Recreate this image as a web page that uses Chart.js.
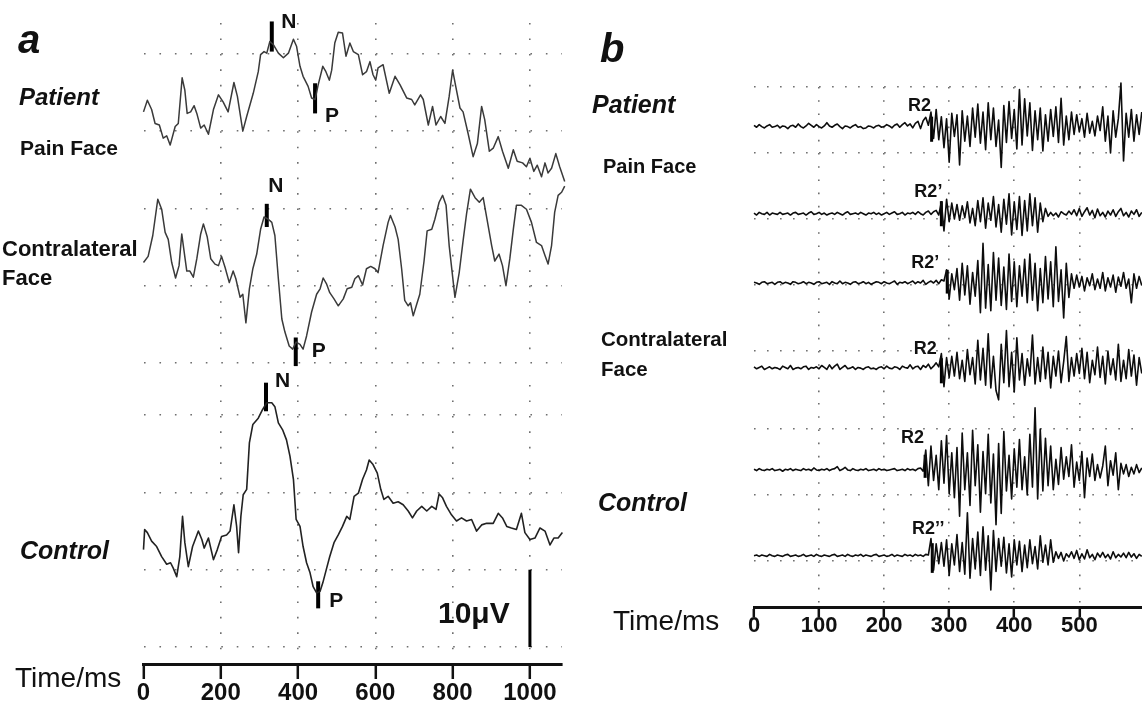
<!DOCTYPE html>
<html>
<head>
<meta charset="utf-8">
<title>Evoked potentials and blink reflex</title>
<script src="https://cdn.jsdelivr.net/npm/chart.js@4.4.0/dist/chart.umd.min.js"></script>
<style>
  html, body { margin: 0; padding: 0; background: #fff; }
  #page { position: relative; width: 1142px; height: 708px; overflow: hidden;
          font-family: Arial, "Liberation Sans", sans-serif; color: #111; }
  #page canvas { position: absolute; left: 0; top: 0; }
  .lbl { position: absolute; white-space: nowrap; line-height: 1; }
</style>
</head>
<body>
<div id="page">
  <canvas id="aUpper" width="1142" height="708"></canvas>
  <canvas id="aLower" width="1142" height="708"></canvas>
  <canvas id="bUpper" width="1142" height="708"></canvas>
  <canvas id="bLower" width="1142" height="708"></canvas>
</div>
<script>
// --- PANEL a: evoked potentials, [time ms, amplitude µV] ---
const aTicks = [0, 200, 400, 600, 800, 1000];
const aRowsUpper = [0, 10, 20, 30, 40];
const aRowsLower = [0, 10, 20, 30];

const aPainFace = [
  [0,2.5],[10,4.0],[21,2.8],[30,1.0],[41,0.8],[51,-0.9],[60,-0.6],[69,-1.8],[82,0.6],[90,1.0],
  [100,6.9],[107,5.3],[113,2.3],[122,2.5],[131,3.3],[138,2.3],[148,0.4],[157,0.8],[168,-0.4],[181,2.8],
  [194,4.7],[206,3.8],[219,2.5],[234,6.3],[243,4.5],[257,0],[267,1.9],[284,4.9],[297,7.7],[303,9.9],
  [312,10.3],[319,10.1],[327,11.6],[336,11.2],[349,10.1],[362,9.5],[375,10.1],[388,11.9],[396,11.0],[405,8.4],
  [413,7.1],[426,5.8],[435,4.3],[444,4.1],[452,6.0],[464,8.4],[472,7.7],[481,6.6],[487,7.9],[495,11.4],
  [504,12.8],[515,12.7],[524,9.7],[534,11.4],[543,10.3],[556,9.9],[567,7.3],[577,7.7],[586,9.0],[594,7.3],
  [601,6.6],[607,8.2],[620,8.6],[636,4.9],[651,7.1],[664,6.0],[681,4.3],[694,4.1],[702,3.4],[717,4.7],
  [724,4.1],[737,0.8],[748,3.2],[757,0.8],[769,1.9],[780,1.0],[791,4.5],[800,7.9],[808,5.8],[819,3.0],
  [827,2.5],[840,-0.3],[853,-3.3],[864,-1.6],[875,3.2],[883,1.5],[895,-2.6],[905,-2.2],[918,-0.7],[929,-2.6],
  [944,-4.8],[957,-2.4],[967,-3.9],[981,-4.1],[991,-4.6],[1000,-3.5],[1010,-5.2],[1019,-4.4],[1030,-5.9],[1039,-4.1],
  [1047,-5.4],[1056,-4.8],[1067,-2.9],[1077,-4.6],[1090,-6.5]
];

const aContralateral = [
  [0,3.0],[12,3.8],[24,6.5],[37,11.2],[47,9.9],[56,6.9],[64,6.0],[73,3.0],[83,1.0],[92,2.6],
  [99,6.7],[106,4.1],[112,1.9],[120,1.9],[129,1.1],[138,3.5],[148,6.7],[155,8.0],[165,6.3],[174,3.5],
  [185,2.8],[194,2.6],[202,3.8],[211,2.4],[222,0.4],[232,1.9],[239,0.9],[250,-1.5],[257,-1.1],[265,-4.8],
  [274,-0.4],[283,2.2],[293,4.1],[303,7.3],[312,8.9],[323,8.6],[332,8.2],[340,6.5],[349,0.9],[358,-4.3],
  [366,-6.0],[377,-7.8],[386,-8.2],[395,-7.3],[405,-7.6],[413,-8.2],[422,-6.5],[435,-3.4],[448,-1.1],[457,-0.4],
  [465,1.0],[474,0.2],[482,-0.9],[493,-1.7],[504,-2.6],[517,-1.7],[527,-0.4],[539,-0.2],[547,0.9],[556,1.3],
  [567,0.1],[577,2.2],[588,2.5],[599,2.2],[607,1.7],[620,5.2],[633,8.2],[639,9.1],[651,7.6],[659,6.0],
  [668,2.2],[676,-1.9],[685,-2.6],[691,-2.2],[698,-3.9],[707,-2.4],[715,-1.1],[726,3.2],[734,7.1],[746,7.3],
  [754,8.6],[765,10.8],[774,11.7],[783,10.4],[791,5.2],[806,-1.5],[817,1.7],[827,5.8],[836,9.3],[846,12.5],
  [858,11.4],[869,10.8],[879,11.4],[889,8.6],[901,5.2],[909,3.2],[920,4.1],[929,2.6],[938,0],[948,3.5],
  [957,7.3],[965,10.4],[978,10.4],[991,9.9],[1004,8.2],[1017,5.6],[1030,5.2],[1039,3.9],[1047,2.8],[1056,5.2],
  [1064,9.5],[1073,11.7],[1082,12.1],[1090,12.9]
];

const aControl = [
  [0,2.6],[3,5.2],[10,4.8],[21,3.7],[34,3.0],[47,1.7],[60,0.7],[70,0.9],[77,0.2],[86,-0.9],
  [94,1.7],[101,6.9],[107,3.5],[116,0.4],[127,3.0],[142,5.0],[151,3.9],[157,2.8],[168,4.1],[181,1.3],
  [191,2.6],[202,4.3],[215,4.5],[224,5.0],[234,8.4],[241,5.6],[246,2.2],[252,6.9],[258,9.7],[267,10.4],
  [274,16.4],[283,18.8],[297,19.6],[308,20.7],[319,21.6],[332,21.6],[340,21.1],[349,19.0],[360,18.1],[370,16.8],
  [379,14.7],[388,11.7],[395,6.5],[405,5.6],[413,3.0],[422,0.9],[431,-0.4],[439,-2.2],[448,-3.0],[457,-2.8],
  [464,-1.7],[474,0.2],[482,1.7],[493,3.5],[504,4.5],[515,5.6],[526,6.9],[534,6.5],[545,9.5],[556,9.9],
  [567,11.7],[577,12.9],[584,14.2],[594,13.6],[605,12.5],[614,10.4],[622,9.1],[633,9.5],[646,8.6],[659,8.8],
  [672,8.4],[685,7.6],[696,6.7],[707,7.6],[720,8.2],[733,7.6],[746,8.2],[757,7.8],[765,9.8],[774,9.3],
  [784,8.2],[797,7.1],[810,6.3],[823,6.7],[836,6.3],[849,6.5],[862,5.0],[875,5.8],[888,6.0],[905,6.0],
  [918,7.3],[929,6.7],[940,5.6],[952,5.4],[965,5.2],[978,7.3],[987,4.8],[1000,3.9],[1013,4.1],[1026,5.4],
  [1039,5.0],[1052,3.2],[1062,4.1],[1073,4.1],[1084,4.8],[1090,5.6]
];

// N / P latency markers: latency (ms) and bar extent (µV, relative to trace)
const aPeaks = [
  { trace: 'pain',    text: 'N', t: 332, lo: 10.3,  hi: 14.2 },
  { trace: 'pain',    text: 'P', t: 444, lo: 2.3,   hi: 6.2 },
  { trace: 'contra',  text: 'N', t: 319, lo: 7.6,   hi: 10.6 },
  { trace: 'contra',  text: 'P', t: 394, lo: -10.4, hi: -6.7 },
  { trace: 'control', text: 'N', t: 317, lo: 20.5,  hi: 24.2 },
  { trace: 'control', text: 'P', t: 452, lo: -5.0,  hi: -1.5 }
];
const scaleBarUV = 10;

// --- PANEL b: blink reflex EMG, one sample every 4 ms from 0 ms ---
const bTicks = [0, 100, 200, 300, 400, 500];
const bRowsUpper = [0, 10, 20, 30, 40];
const bRowsLower = [0, 10, 20];
const bSampleMs = 4;

const bPainR2 = [
  0.2,-0.1,0.3,0,-0.2,0.1,0.3,-0.1,0,0.2,
  -0.2,0.1,0,-0.3,0.1,0.2,-0.1,0.4,0,-0.2,
  0.1,0.5,0.2,-0.1,0.3,0,-0.2,0.1,0.6,0.1,
  -0.1,0.2,0.4,0,-0.3,0.1,0,-0.2,0.1,0.3,
  -0.1,0,-0.3,-0.2,0.1,0,-0.2,0.1,0.2,-0.1,
  0,0.3,0.1,-0.2,0.2,0.4,-0.1,0.3,0.6,0.1,
  0.4,-0.2,0.5,0.8,-0.3,0.9,1.4,0.2,2.2,-1.8,
  2.6,-2.0,1.5,-3.2,1.2,-5.4,2.0,-1.5,1.8,-5.8,
  2.4,-2.2,1.6,-3.0,2.8,-1.6,3.4,-2.5,2.2,-3.5,
  3.6,-2.0,2.8,-3.0,1.0,-6.2,3.2,-2.4,3.8,-1.8,
  2.6,-3.4,5.6,-2.8,4.2,-1.4,3.6,-3.6,2.4,-2.0,
  2.8,-3.7,1.8,-2.2,2.6,-1.5,3.0,-2.4,4.3,-2.8,
  1.6,-2.0,2.2,-1.2,1.8,-0.8,1.2,-1.6,2.0,-1.0,
  0.8,-1.4,1.6,-0.6,3.0,-2.2,1.6,-4.0,2.4,-1.6,
  1.2,6.6,-5.2,2.0,-1.6,2.6,-2.2,1.8,-1.2,2.2
];

const bPainR2c = [
  0.1,-0.2,0.2,0,-0.1,0.2,-0.2,0.1,0,-0.1,
  0.2,-0.1,0,0.1,-0.2,0.1,0.2,-0.1,0,0.1,
  -0.2,0.1,0.3,-0.1,0,0.2,-0.1,0.1,-0.2,0,
  0.1,-0.1,0.2,0,-0.2,0.1,0.3,-0.1,0,0.1,
  -0.1,0.2,0,-0.2,0.1,0,0.2,-0.1,0.1,-0.2,
  0,0.2,-0.1,0.1,0.3,-0.1,0,0.2,-0.2,0.1,
  0,0.2,-0.1,0.3,0,-0.2,0.2,0.4,-0.1,0.3,
  0.5,-0.2,1.8,-2.6,2.2,-1.2,1.6,-0.8,1.4,-1.0,
  1.2,-0.6,1.8,-1.4,0.8,-1.8,2.0,-1.2,2.4,-2.2,
  1.6,-1.0,2.6,-2.0,1.4,-2.8,2.2,-1.6,3.0,-3.2,
  1.8,-2.4,2.6,-3.3,2.0,-2.6,3.0,-1.8,2.4,-2.8,
  1.6,-1.2,0.8,-0.4,0.2,-0.3,0.1,-0.5,0.3,0,
  -0.2,0.4,-0.1,0.6,-0.3,0.8,-0.4,0.3,0.9,-0.2,
  0.5,-0.6,0.7,-0.3,0.2,-0.5,0.4,-0.2,0.6,-0.4,
  0.3,0.8,-0.3,0.2,-0.5,0.4,-0.1,0.6,-0.4,0.2
];

const bContraR2c = [
  0.1,0,-0.2,0.1,0.2,-0.1,0,0.1,-0.2,0.1,
  0.2,-0.1,0.1,0,-0.2,0.2,0.1,-0.1,0,0.2,
  -0.1,0.1,0,-0.2,0.1,0.2,-0.1,0,0.1,-0.2,
  0.2,0,-0.1,0.3,-0.1,0.1,0,-0.2,0.1,0.2,
  -0.1,0,0.2,-0.1,0.1,-0.2,0,0.2,0.1,-0.1,
  0.2,0,-0.1,0.1,0.3,-0.2,0.1,0,0.2,-0.1,
  0.1,0.3,-0.1,0.2,0,0.4,-0.2,0.1,0.3,0,
  0.4,-0.1,0.5,0.3,2.0,-2.4,1.4,-1.0,2.2,-2.6,
  3.0,-1.8,2.6,-3.2,1.6,-2.0,3.4,-4.5,6.0,-3.8,
  2.8,-4.2,4.6,-2.6,3.8,-3.4,2.4,-4.0,4.4,-2.8,
  3.2,-3.6,2.6,-2.0,3.6,-3.0,4.4,-2.6,3.0,-4.2,
  2.2,-3.0,4.0,-2.4,3.2,-3.6,5.5,-2.8,2.0,-5.3,
  3.0,-2.2,1.4,-0.8,1.2,-0.6,1.0,-1.2,0.8,-0.4,
  1.4,-1.0,0.6,-0.8,1.6,-1.2,0.8,-0.6,1.2,-1.4,
  0.9,-0.5,1.6,-0.8,0.6,-3.0,1.4,-0.8,1.0,-0.4
];

const bContraR2 = [
  0.2,-0.1,0.1,0.3,-0.2,0,0.2,-0.1,0.1,0,
  -0.2,0.3,0.1,-0.1,0.4,-0.2,0,0.1,-0.1,0.2,
  0.3,-0.2,0.1,0,0.2,-0.1,0.4,0.1,-0.2,0.5,
  -0.1,0.3,0.6,-0.2,0.1,0.4,-0.1,0,0.2,-0.2,
  0.1,0,-0.2,0.1,0.2,-0.1,0,-0.2,0.1,0.2,
  -0.1,0.3,0,-0.1,0.2,0.1,-0.2,0.3,0.1,0,
  0.5,-0.1,0.2,0.3,-0.2,0.4,0.1,0.6,-0.1,0.3,
  0.8,0.2,2.2,-2.8,1.6,-1.4,1.8,-1.2,2.4,-1.6,
  1.2,-2.0,2.8,-1.0,1.6,-2.4,4.2,-1.8,3.0,-2.6,
  5.2,-3.0,1.8,-3.4,-4.8,3.6,-2.2,5.7,-2.8,2.4,
  -3.6,4.6,-1.8,2.2,-2.6,1.4,-1.2,5.0,-2.4,1.6,
  -2.0,3.2,-1.6,2.4,-3.0,1.8,-1.2,2.6,-2.2,1.0,
  4.8,-2.0,1.6,-1.2,2.2,-0.8,3.0,-1.6,2.4,-2.2,
  1.2,-1.0,3.2,-1.4,1.8,-2.4,2.6,-1.0,1.4,-1.8,
  3.6,-2.0,1.2,-1.6,2.8,-1.2,2.0,-2.6,1.6,-0.8
];

const bControlR2 = [
  0.1,-0.1,0.2,0,-0.1,0.1,0,0.2,-0.1,0,
  0.1,-0.2,0.1,0,0.2,-0.1,0.1,0,-0.1,0.2,
  0,0.1,-0.1,0.3,0,-0.1,0.1,0,0.2,-0.1,
  0.1,0.2,0.5,-0.1,0.1,0.4,0,-0.1,0.2,0,
  -0.1,0.1,0,0.2,-0.1,0,0.1,-0.1,0.2,0,
  0.1,-0.1,0,0.1,0.2,-0.1,0,0.1,-0.1,0.2,
  0,0.1,-0.1,0.2,0.3,-0.2,3.0,-2.4,3.6,-1.6,
  2.2,-3.0,4.4,-2.0,5.2,-3.6,2.6,-4.2,3.4,-7.0,
  5.6,-3.0,2.6,-5.4,6.0,-2.4,3.8,-6.4,2.8,-3.6,
  5.4,-5.0,2.4,-8.3,4.0,-6.6,5.8,-3.2,2.2,-4.4,
  3.2,-2.6,4.6,-3.0,2.0,-3.8,5.4,-2.6,9.4,-4.4,
  6.2,-3.2,4.8,-2.4,3.6,-3.0,1.6,-2.2,3.4,-1.4,
  2.0,-1.0,3.8,-2.6,1.2,-1.6,2.8,-4.2,1.8,-1.0,
  2.4,-1.6,0.8,-1.2,0.6,3.6,-2.4,1.4,-0.8,2.6,
  -3.0,1.0,-0.6,0.8,-1.0,0.4,-0.6,0.8,-0.4,0.3
];

const bControlR2c = [
  0,0.1,-0.1,0.1,0,-0.1,0.2,0,-0.1,0.1,
  0,-0.1,0.1,0.2,-0.1,0,0.1,-0.1,0,0.2,
  -0.1,0,0.1,-0.1,0.2,0,-0.1,0.1,0,-0.1,
  0.1,0.2,-0.1,0,0.1,-0.1,0.2,0,-0.1,0.1,
  0,0.2,-0.1,0.1,0,-0.1,0.1,0.2,-0.1,0,
  0.1,-0.1,0,0.2,-0.1,0.1,0,-0.1,0.2,0,
  0.1,-0.1,0.2,0,0.1,-0.1,0.2,0.1,2.6,-2.2,
  1.8,-1.2,2.0,-1.6,2.4,-3.0,1.8,-1.4,3.2,-2.4,
  2.0,-2.8,6.5,-3.4,2.6,-2.0,3.6,-3.0,4.4,-2.2,
  3.0,-5.2,3.8,-2.4,2.6,-1.6,2.8,-2.6,1.8,-3.2,
  2.4,-1.4,2.2,-2.4,1.6,-1.8,2.4,-1.2,1.4,-2.0,
  3.0,-1.0,1.6,-1.4,2.4,-1.0,0.6,-0.4,0.5,-0.8,
  0.3,-0.2,0.6,-0.4,0.8,-0.6,0.3,-0.5,0.9,-0.3,
  0.2,-0.6,0.4,-0.2,0.5,-0.3,0.2,-0.5,0.6,-0.3,
  0.2,-0.2,0.4,-0.3,0.5,-0.2,0.3,-0.4,0.2,-0.1
];

// R2 onset markers: latency (ms) and bar extent relative to trace
const bOnsets = [
  { trace: 'painR2',     text: 'R2',   t: 273, lo: -2.3, hi: 1.5 },
  { trace: 'painR2c',    text: 'R2\u2019',  t: 288, lo: -1.9, hi: 1.9 },
  { trace: 'contraR2c',  text: 'R2\u2019',  t: 297, lo: -1.6, hi: 2.0 },
  { trace: 'contraR2',   text: 'R2',   t: 288, lo: -2.3, hi: 1.5 },
  { trace: 'controlR2',  text: 'R2',   t: 263, lo: -1.2, hi: 2.3 },
  { trace: 'controlR2c', text: 'R2\u2019\u2019', t: 274, lo: -2.6, hi: 1.9 }
];

// --- LAYOUT (page pixels) ---
const PAGE_W = 1142, PAGE_H = 708;
const FONT = 'Arial, "Liberation Sans", sans-serif';
const GRID_DOT = '#6e6e6e';
Chart.defaults.font.family = FONT;

// vertical placement of each trace on its chart's axis
const OFFSETS = {
  pain: 30, contra: 10, control: 10,
  painR2: 34, painR2c: 20.8, contraR2c: 10.3, contraR2: -2.6,
  controlR2: 13.8, controlR2c: 0.8
};
// label position relative to the marker bar centre (px)
const LABEL_SHIFT = {
  pain: { N: [17, -14], P: [17, 18] },
  contra: { N: [9, -29], P: [23, -1] },
  control: { N: [16.5, -15.5], P: [18, 6] },
  painR2: [-12, -23], painR2c: [-13, -22], contraR2c: [-22, -19],
  contraR2: [-16, -22], controlR2: [-12.5, -28.5], controlR2c: [-4, -29]
};

const TEXTS = [
  ['a', 18, 53, 40, 'bold', 'italic'],
  ['Patient', 19, 105, 24, 'bold', 'italic'],
  ['Pain Face', 20, 155, 21, 'bold', 'normal'],
  ['Contralateral', 2, 257, 22, 'bold', 'normal'],
  ['Face', 2, 286, 22, 'bold', 'normal'],
  ['Control', 20, 559, 25, 'bold', 'italic'],
  ['Time/ms', 15, 688, 28, 'normal', 'normal'],
  ['10\u03bcV', 438, 623, 30, 'bold', 'normal'],
  ['b', 600, 62, 40, 'bold', 'italic'],
  ['Patient', 592, 113, 25, 'bold', 'italic'],
  ['Pain Face', 603, 173, 20, 'bold', 'normal'],
  ['Contralateral', 601, 346, 20.5, 'bold', 'normal'],
  ['Face', 601, 376, 20.5, 'bold', 'normal'],
  ['Control', 598, 511, 25, 'bold', 'italic'],
  ['Time/ms', 613, 631, 28, 'normal', 'normal']
];

// --- HELPERS ---
const samplePoints = (values) => values.map((v, i) => [i * bSampleMs, v]);

function traceSet(points, offset, color, width) {
  return {
    data: points.map(([t, v]) => ({ x: t, y: v + offset })),
    borderColor: color, borderWidth: width, pointRadius: 0, clip: false,
    tension: 0, borderJoinStyle: 'round'
  };
}

function markerSet(m, offset, width) {
  return {
    data: [{ x: m.t, y: m.lo + offset }, { x: m.t, y: m.hi + offset }],
    borderColor: '#000', borderWidth: width, pointRadius: 0, clip: false,
    borderCapStyle: 'butt'
  };
}

function labelPlugin(items, font) {
  return {
    id: 'markerLabels',
    afterDatasetsDraw(chart) {
      const { ctx, scales: { x, y } } = chart;
      ctx.save();
      ctx.font = font;
      ctx.fillStyle = '#111';
      ctx.textAlign = 'center';
      ctx.textBaseline = 'middle';
      items.forEach(it => {
        ctx.fillText(it.text, x.getPixelForValue(it.t) + it.dx, y.getPixelForValue(it.mid) + it.dy);
      });
      ctx.restore();
    }
  };
}

function makeChart(id, cfg) {
  const axisH = cfg.axis ? cfg.axis.height : 0;
  return new Chart(document.getElementById(id), {
    type: 'line',
    data: { datasets: cfg.datasets },
    options: {
      responsive: false,
      animation: false,
      events: [],
      layout: { padding: {
        left: cfg.area.left, top: cfg.area.top,
        right: PAGE_W - cfg.area.right, bottom: PAGE_H - cfg.area.bottom - axisH
      } },
      plugins: { legend: { display: false }, tooltip: { enabled: false } },
      scales: {
        x: {
          type: 'linear', min: 0, max: cfg.xMax, bounds: 'data',
          afterBuildTicks: s => { s.ticks = cfg.xTicks.map(v => ({ value: v })); },
          afterFit: s => { s.height = axisH; },
          grid: {
            color: c => (c.tick && c.tick.value === 0) ? 'rgba(0,0,0,0)' : GRID_DOT,
            lineWidth: 1.6,
            drawTicks: !!cfg.axis,
            tickLength: cfg.axis ? cfg.axis.tickLength : 0,
            tickWidth: 2.5,
            tickColor: '#111'
          },
          border: { display: !!cfg.axis, color: '#111', width: 3, dash: [1.6, cfg.colDot - 1.6] },
          ticks: {
            display: !!cfg.axis, color: '#111', padding: 0, maxRotation: 0, autoSkip: false,
            font: cfg.axis ? cfg.axis.font : undefined,
            callback: v => String(v)
          }
        },
        y: {
          type: 'linear', min: cfg.yMin, max: cfg.yMax, bounds: 'data',
          afterBuildTicks: s => { s.ticks = cfg.rows.map(v => ({ value: v })); },
          afterFit: s => { s.width = 0; },
          grid: { color: GRID_DOT, lineWidth: 1.6, drawTicks: false },
          border: { display: false, dash: [1.6, cfg.rowDot - 1.6] },
          ticks: { display: false }
        }
      }
    },
    plugins: [labelPlugin(cfg.labels, cfg.labelFont)]
  });
}

function peakItems(peaks, traces, shifts) {
  return peaks.filter(p => traces.includes(p.trace)).map(p => {
    const sh = shifts[p.trace][p.text] || shifts[p.trace];
    return { text: p.text, t: p.t, mid: (p.lo + p.hi) / 2 + OFFSETS[p.trace], dx: sh[0], dy: sh[1] };
  });
}

// --- PANEL a ---
const A_PX_MS = (562 - 143.5) / 1083;
const aDot = 40 * A_PX_MS;
const aTraceColor = '#3a3a3a';

makeChart('aUpper', {
  area: { left: 143.5, right: 562, top: 23, bottom: 363 },
  xMax: 1083, xTicks: aTicks, yMin: 0, yMax: 44, rows: aRowsUpper,
  colDot: aDot, rowDot: aDot,
  datasets: [
    traceSet(aPainFace, OFFSETS.pain, aTraceColor, 1.5),
    traceSet(aContralateral, OFFSETS.contra, aTraceColor, 1.5),
    ...aPeaks.filter(p => p.trace !== 'control').map(p => markerSet(p, OFFSETS[p.trace], 4))
  ],
  labels: peakItems(aPeaks, ['pain', 'contra'], LABEL_SHIFT),
  labelFont: 'bold 21px ' + FONT
});

makeChart('aLower', {
  area: { left: 143.5, right: 562, top: 385, bottom: 664 },
  xMax: 1083, xTicks: aTicks, yMin: -2.2, yMax: 33.9, rows: aRowsLower,
  colDot: aDot, rowDot: aDot,
  axis: { height: 44, tickLength: 15, font: { size: 24, weight: 'bold', lineHeight: 1.2 } },
  datasets: [
    traceSet(aControl, OFFSETS.control, '#222', 1.6),
    ...aPeaks.filter(p => p.trace === 'control').map(p => markerSet(p, OFFSETS.control, 4)),
    { data: [{ x: 1000, y: 0 }, { x: 1000, y: scaleBarUV }], borderColor: '#000', borderWidth: 3,
      pointRadius: 0, clip: false, borderCapStyle: 'butt' }
  ],
  labels: peakItems(aPeaks, ['control'], LABEL_SHIFT),
  labelFont: 'bold 21px ' + FONT
});

// --- PANEL b ---
const B_PX_MS = 0.6506;
const bUpperTraces = { painR2: bPainR2, painR2c: bPainR2c, contraR2c: bContraR2c, contraR2: bContraR2 };
const bLowerTraces = { controlR2: bControlR2, controlR2c: bControlR2c };
const bTraceColor = '#0d0d0d';

function bDatasets(traces) {
  const keys = Object.keys(traces);
  return [
    ...keys.map(k => traceSet(samplePoints(traces[k]), OFFSETS[k], bTraceColor, 1.6)),
    ...bOnsets.filter(m => keys.includes(m.trace)).map(m => markerSet(m, OFFSETS[m.trace], 3))
  ];
}
function bLabels(traces) {
  const keys = Object.keys(traces);
  return bOnsets.filter(m => keys.includes(m.trace)).map(m => ({
    text: m.text, t: m.t, mid: (m.lo + m.hi) / 2 + OFFSETS[m.trace],
    dx: LABEL_SHIFT[m.trace][0], dy: LABEL_SHIFT[m.trace][1]
  }));
}

makeChart('bUpper', {
  area: { left: 754, right: 1142, top: 87, bottom: 395 },
  xMax: 388 / B_PX_MS, xTicks: bTicks, yMin: -6.67, yMax: 40, rows: bRowsUpper,
  colDot: 13.2, rowDot: 20 * B_PX_MS,
  datasets: bDatasets(bUpperTraces),
  labels: bLabels(bUpperTraces),
  labelFont: 'bold 18px ' + FONT
});

makeChart('bLower', {
  area: { left: 754, right: 1142, top: 403, bottom: 607 },
  xMax: 388 / B_PX_MS, xTicks: bTicks, yMin: -6.97, yMax: 23.94, rows: bRowsLower,
  colDot: 13.2, rowDot: 20 * B_PX_MS,
  axis: { height: 40, tickLength: 10, font: { size: 22, weight: 'bold', lineHeight: 0.8 } },
  datasets: bDatasets(bLowerTraces),
  labels: bLabels(bLowerTraces),
  labelFont: 'bold 18px ' + FONT
});

// --- TEXT LABELS ---
const page = document.getElementById('page');
TEXTS.forEach(([text, left, baseline, size, weight, style]) => {
  const el = document.createElement('div');
  el.className = 'lbl';
  el.textContent = text;
  el.style.left = left + 'px';
  el.style.top = (baseline - 0.8465 * size) + 'px';
  el.style.fontSize = size + 'px';
  el.style.fontWeight = weight;
  el.style.fontStyle = style;
  page.appendChild(el);
});
</script>
</body>
</html>
